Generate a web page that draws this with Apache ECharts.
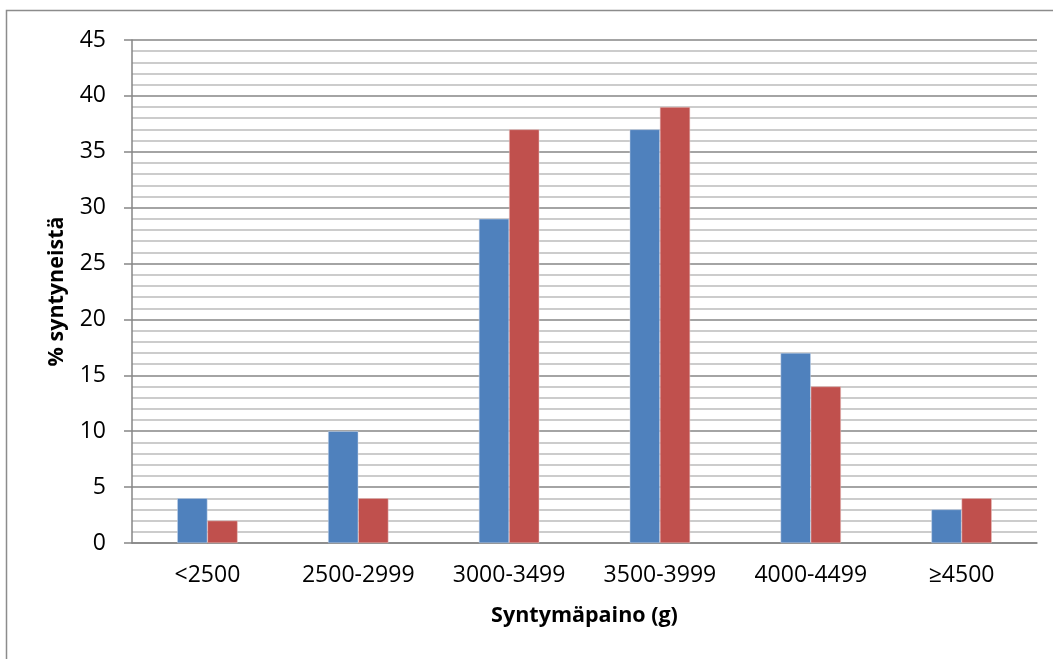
<!DOCTYPE html>
<html>
<head>
<meta charset="utf-8">
<script src="https://cdn.jsdelivr.net/npm/echarts@6/dist/echarts.min.js"></script>
<style>
html,body{margin:0;padding:0;background:#fff;overflow:hidden;}
#chart{width:1053px;height:659px;}
</style>
</head>
<body>
<div id="chart"></div>
<script>
const categories = ['<2500', '2500-2999', '3000-3499', '3500-3999', '4000-4499', '≥4500'];
const seriesA = [4, 10, 29, 37, 17, 3];
const seriesB = [2, 4, 37, 39, 14, 4];
const yTicks = [0, 5, 10, 15, 20, 25, 30, 35, 40, 45];

const chart = echarts.init(document.getElementById('chart'));
const FONT = 'Open Sans';
chart.setOption({
  animation: false,
  graphic: [{
    type: 'rect',
    shape: {x: 6.5, y: 10.5, width: 1100, height: 700},
    style: {fill: 'none', stroke: '#8c8c8c', lineWidth: 1.5},
    silent: true
  }],
  grid: {left: 132, right: 16, top: 40, bottom: 116},
  xAxis: {
    type: 'category',
    data: categories,
    name: 'Syntymäpaino (g)',
    nameLocation: 'middle',
    nameGap: 62,
    nameTextStyle: {fontFamily: FONT, fontSize: 21.5, fontWeight: 'bold', color: '#000'},
    axisLine: {show: true, lineStyle: {color: '#868686', width: 1.5}},
    axisTick: {show: false},
    axisLabel: {fontFamily: FONT, fontSize: 23, color: '#000', margin: 21}
  },
  yAxis: {
    type: 'value',
    min: yTicks[0],
    max: yTicks[yTicks.length - 1],
    interval: 5,
    name: '% syntyneistä',
    nameLocation: 'middle',
    nameGap: 64,
    nameTextStyle: {fontFamily: FONT, fontSize: 21.5, fontWeight: 'bold', color: '#000'},
    axisLine: {show: true, lineStyle: {color: '#868686', width: 1.5}},
    axisTick: {show: true, length: 8, lineStyle: {color: '#868686', width: 1.5}},
    axisLabel: {fontFamily: FONT, fontSize: 23, color: '#000', margin: 26},
    splitLine: {show: true, lineStyle: {color: '#868686', width: 1.5}},
    minorTick: {show: false, splitNumber: 5},
    minorSplitLine: {show: true, lineStyle: {color: '#bcbcbc', width: 1.5}}
  },
  series: [
    {
      type: 'bar', data: seriesA, barGap: '0%', barCategoryGap: '60%',
      itemStyle: {color: '#4F81BD', borderColor: '#c9d6ea', borderWidth: 0.5}
    },
    {
      type: 'bar', data: seriesB, barGap: '0%', barCategoryGap: '60%',
      itemStyle: {color: '#C0504D', borderColor: '#e8c4c3', borderWidth: 0.5}
    }
  ]
});
</script>
</body>
</html>
